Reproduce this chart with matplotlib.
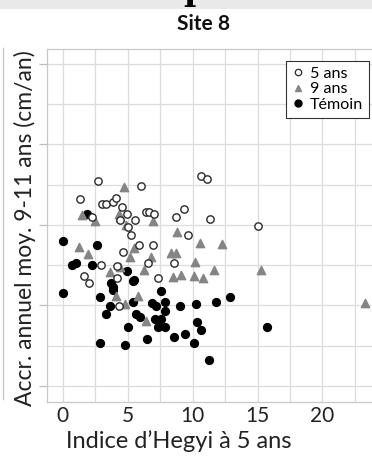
import matplotlib
matplotlib.use("Agg")
import matplotlib.pyplot as plt
from matplotlib.lines import Line2D
from matplotlib.patches import Rectangle
import numpy as np

plt.rcParams['font.family'] = ['Lato', 'DejaVu Sans']

# Hegyi competition index at 5 years vs mean annual growth, years 9-11 (cm/yr)
hegyi_5ans = [2.71, 1.34, 2.99, 3.30, 3.88, 4.13, 4.57, 6.02, 4.95, 5.57, 2.25, 4.44,
              6.40, 6.60, 7.05, 8.71, 9.34, 10.67, 11.09, 11.32, 15.04, 5.02, 5.22,
              9.61, 5.89, 6.98, 4.65, 6.59, 8.57, 2.97, 4.19, 1.63, 2.04, 4.19, 7.33, 4.34]
accr_5ans = [50.9, 46.3, 45.2, 45.2, 45.6, 46.6, 44.5, 49.6, 42.7, 41.3, 41.9, 41.3,
             43.2, 43.2, 42.8, 41.9, 43.9, 52.2, 51.4, 41.4, 39.7, 39.5, 37.5,
             37.5, 34.9, 34.9, 33.2, 30.6, 30.4, 30.0, 29.9, 27.3, 25.6, 26.9, 26.8, 19.9]

hegyi_9ans = [4.70, 1.44, 2.50, 4.31, 4.44, 4.83, 6.98, 8.78, 10.54, 12.27, 1.26, 1.94,
              5.47, 5.16, 8.32, 8.68, 6.79, 10.20, 4.44, 6.28, 3.61, 11.63, 8.47, 9.09,
              10.08, 10.82, 4.08, 5.78, 4.78, 6.38, 15.24, 23.30]
accr_9ans = [49.4, 42.4, 40.9, 42.7, 41.9, 40.0, 40.9, 38.3, 35.4, 35.2, 34.4, 32.7,
             34.3, 32.1, 32.9, 32.9, 32.1, 30.8, 29.6, 28.8, 28.3, 28.8, 27.0, 27.5,
             27.3, 26.9, 22.4, 22.4, 20.3, 16.2, 28.8, 20.5]

hegyi_temoin = [0.00, 1.86, 2.66, 0.74, 1.01, 2.27, 4.93, 0.00, 2.89, 3.72, 3.88, 3.90,
                5.40, 5.50, 7.57, 3.64, 3.33, 5.40, 5.63, 5.94, 6.90, 7.16, 7.88, 7.85,
                7.10, 7.57, 7.33, 7.85, 5.04, 9.04, 10.26, 10.31, 10.64, 11.81, 12.91,
                8.57, 9.40, 10.12, 6.46, 2.84, 4.81, 11.24, 15.71]
accr_temoin = [36.1, 42.7, 34.9, 30.0, 30.4, 30.0, 28.6, 23.0, 22.2, 25.6, 24.5, 23.8,
               26.0, 26.2, 23.6, 19.9, 17.8, 20.9, 17.9, 17.2, 20.5, 19.9, 20.9, 18.6,
               16.6, 16.6, 14.7, 14.7, 14.7, 19.9, 20.3, 15.9, 13.9, 20.9, 22.2,
               12.2, 12.9, 10.7, 11.6, 10.7, 10.2, 6.4, 14.6]

x_ticks = [0, 5, 10, 15, 20]
y_ticks = [0, 20, 40, 60, 80]
legend_labels = ['5 ans', '9 ans', 'Témoin']

W, H = 372, 458
fig = plt.figure(figsize=(W / 100, H / 100), dpi=100)
fig.patch.set_facecolor('white')

# header band of the page above the panel
fig.add_artist(Rectangle((0, 1 - 9 / H), 1, 9 / H, transform=fig.transFigure,
                         facecolor='#e9e9e9', edgecolor='none', zorder=0))
fig.text(195 / W, 1.0, 'p', family='DejaVu Serif', fontweight='bold', fontsize=24,
         ha='center', va='baseline', color='black')

# edge of the neighbouring panel
fig.add_artist(Line2D([3 / W, 3 / W], [1 - 48 / H, 1 - 399 / H], transform=fig.transFigure,
                      color='#c8c8c8', lw=1.0))

ax = fig.add_axes([47 / W, 1 - 402 / H, 1 - 47 / W + 0.01, (402 - 48.5) / H])
ax.set_xlim(-1.22, 24.1)
ax.set_ylim(-3.97, 83.75)

ax.set_xticks(np.arange(0, 25, 2.5), minor=True)
ax.set_yticks(np.arange(0, 90, 10), minor=True)
ax.set_xticks(x_ticks)
ax.set_xticklabels([str(v) for v in x_ticks])
ax.set_yticks(y_ticks)
ax.set_yticklabels([])
ax.grid(True, which='both', color='#dcdcdc', lw=0.9)
ax.set_axisbelow(True)
ax.tick_params(axis='x', which='both', length=0, labelsize=15, pad=3, labelcolor='#222222')
ax.tick_params(axis='y', which='major', length=6, color='#bdbdbd', width=0.9)
ax.tick_params(axis='y', which='minor', length=0)
for side in ['top', 'left', 'bottom']:
    ax.spines[side].set_color('#c8c8c8')
    ax.spines[side].set_linewidth(0.9)
ax.spines['right'].set_visible(False)

ax.scatter(hegyi_temoin, accr_temoin, s=32, marker='o', color='black', zorder=3)
ax.scatter(hegyi_9ans, accr_9ans, s=36, marker='^', color='#858585', zorder=4)
ax.scatter(hegyi_5ans, accr_5ans, s=28, marker='o', facecolor='white',
           edgecolor='#2a2a2a', linewidths=1.0, zorder=5)

handles = [
    Line2D([], [], ls='none', marker='o', ms=4.6, mfc='white', mec='#2a2a2a', mew=0.9),
    Line2D([], [], ls='none', marker='^', ms=5, color='#858585'),
    Line2D([], [], ls='none', marker='o', ms=5, color='black'),
]
leg = ax.legend(handles, legend_labels, loc='upper left',
                bbox_to_anchor=(286 / W, 1 - 61 / H), bbox_transform=fig.transFigure,
                borderaxespad=0, fancybox=False, framealpha=1, edgecolor='#333333',
                fontsize=11.6, handlelength=0.75, handletextpad=0.4, labelspacing=0.08,
                borderpad=0.35)
leg.get_frame().set_linewidth(0.8)
leg.set_zorder(10)

fig.text(204 / W, 1 - 24 / H, 'Site 8', ha='center', va='center', fontsize=15,
         fontweight='bold', color='#111111')
fig.text(179 / W, 1 - 441 / H, 'Indice d\u2019Hegyi à 5 ans', ha='center', va='center',
         fontsize=17, color='#222222')
fig.text(25 / W, 1 - 228 / H, 'Accr. annuel moy. 9-11 ans (cm/an)', ha='center',
         va='center', rotation=90, fontsize=16.5, color='#222222')

fig.savefig('out.png', dpi=100, facecolor='white')
